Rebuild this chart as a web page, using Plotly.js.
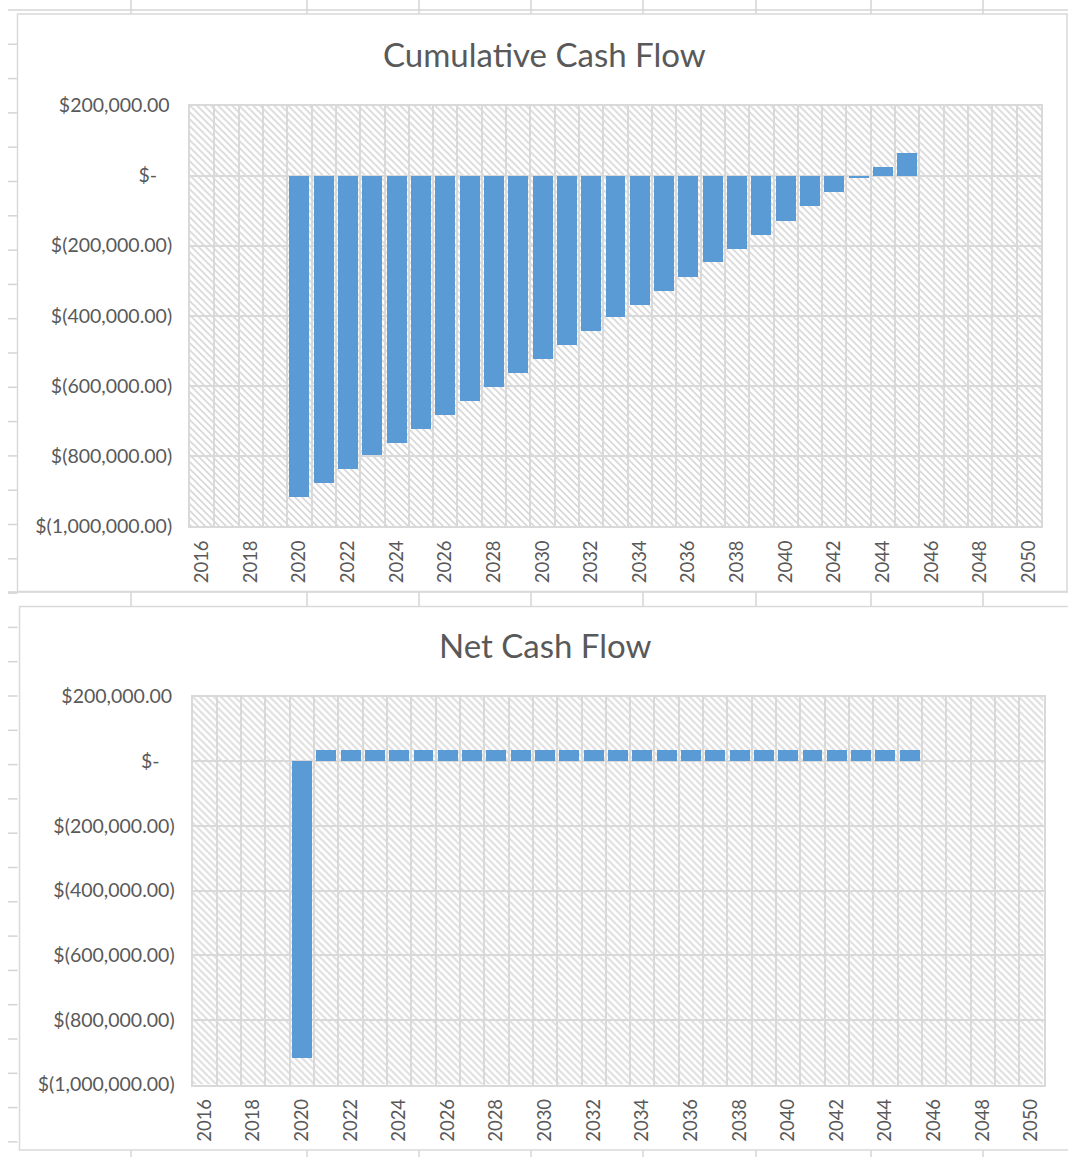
<!DOCTYPE html>
<html>
<head>
<meta charset="utf-8">
<script src="https://cdn.plot.ly/plotly-3.0.1.min.js"></script>
<style>
  html, body { margin: 0; padding: 0; background: #ffffff; }
  #chart { width: 1068px; height: 1157px; }
</style>
</head>
<body>
<div id="chart"></div>
<script>
// ---- data ----
const years = [2016, 2017, 2018, 2019, 2020, 2021, 2022, 2023, 2024, 2025, 2026, 2027,
  2028, 2029, 2030, 2031, 2032, 2033, 2034, 2035, 2036, 2037, 2038, 2039, 2040,
  2041, 2042, 2043, 2044, 2045, 2046, 2047, 2048, 2049, 2050];

const flowYears = [2020, 2021, 2022, 2023, 2024, 2025, 2026, 2027, 2028, 2029, 2030,
  2031, 2032, 2033, 2034, 2035, 2036, 2037, 2038, 2039, 2040, 2041, 2042, 2043, 2044, 2045];

const cumulativeCashFlow = [-916000, -878000, -837000, -797000, -763000, -723000, -683000,
  -643000, -603000, -563000, -523000, -483000, -443000, -403000, -369000, -328000, -289000,
  -248000, -209000, -169000, -129000, -88000, -48000, -6000, 24000, 64000];

const netCashFlow = [-917000, 35000, 35000, 35000, 35000, 35000, 35000, 35000, 35000, 35000,
  35000, 35000, 35000, 35000, 35000, 35000, 35000, 35000, 35000, 35000, 35000, 35000,
  35000, 35000, 35000, 35000];

const xTickYears = [2016, 2018, 2020, 2022, 2024, 2026, 2028, 2030, 2032, 2034, 2036,
  2038, 2040, 2042, 2044, 2046, 2048, 2050];

const yTickValues = [200000, 0, -200000, -400000, -600000, -800000, -1000000];
const yTickLabels = ['$200,000.00\u2009', '$-\u00a0\u00a0\u00a0', '$(200,000.00)', '$(400,000.00)',
  '$(600,000.00)', '$(800,000.00)', '$(1,000,000.00)'];

const titles = ['Cumulative Cash Flow', 'Net Cash Flow'];

// ---- page geometry (pixels) ----
const W = 1068, H = 1157;
const px = x => x / W;
const py = y => 1 - y / H;

const plotBoxes = [
  { x0: 190, x1: 1041, y0: 105.5, y1: 526 },
  { x0: 192.5, x1: 1043.5, y0: 696.5, y1: 1084.5 }
];

const FONT = 'Lato, "Open Sans", sans-serif';
const TEXT = '#595959';
const GRID = '#d9d9d9';
const BAR = '#5B9BD5';
const SHEET = '#d4d4d4';

// Diagonal hatch used as the plot-area fill
function hatch(w, h) {
  const svg =
    '<svg xmlns="http://www.w3.org/2000/svg" width="' + w + '" height="' + h + '">' +
    '<defs><pattern id="p" width="7" height="7" patternUnits="userSpaceOnUse">' +
    '<path d="M-1,-1 L8,8 M-1,6 L1,8 M6,-1 L8,1" stroke="#d8d8d8" stroke-width="1.7"/>' +
    '</pattern></defs>' +
    '<rect width="' + w + '" height="' + h + '" fill="#ffffff"/>' +
    '<rect width="' + w + '" height="' + h + '" fill="url(#p)"/></svg>';
  return 'data:image/svg+xml;charset=utf-8,' + encodeURIComponent(svg);
}

const traces = [
  {
    type: 'bar', x: flowYears, y: cumulativeCashFlow, xaxis: 'x', yaxis: 'y',
    width: 0.82, marker: { color: BAR, line: { width: 0 } }, hoverinfo: 'skip'
  },
  {
    type: 'bar', x: flowYears, y: netCashFlow, xaxis: 'x2', yaxis: 'y2',
    width: 0.82, marker: { color: BAR, line: { width: 0 } }, hoverinfo: 'skip'
  }
];

function xAxis(box, anchor) {
  return {
    domain: [px(box.x0), px(box.x1)],
    anchor: anchor,
    type: 'linear',
    range: [years[0] - 0.5, years[years.length - 1] + 0.5],
    tickmode: 'array',
    tickvals: xTickYears,
    ticktext: xTickYears.map(String),
    tickangle: -90,
    ticks: '',
    ticklabelstandoff: 5,
    showgrid: false,
    zeroline: false,
    showline: true,
    mirror: true,
    linecolor: GRID,
    linewidth: 2,
    minor: {
      tickmode: 'linear',
      tick0: years[0] - 0.5,
      dtick: 1,
      showgrid: true,
      gridcolor: GRID,
      gridwidth: 2,
      ticks: ''
    },
    tickfont: { family: FONT, size: 18.5, color: TEXT },
    fixedrange: true
  };
}

function yAxis(box, anchor) {
  return {
    domain: [py(box.y1), py(box.y0)],
    anchor: anchor,
    range: [yTickValues[yTickValues.length - 1], yTickValues[0]],
    tickmode: 'array',
    tickvals: yTickValues,
    ticktext: yTickLabels,
    ticks: '',
    ticklabelstandoff: 12,
    showgrid: true,
    gridcolor: GRID,
    gridwidth: 2,
    zeroline: false,
    showline: true,
    mirror: true,
    linecolor: GRID,
    linewidth: 2,
    tickfont: { family: FONT, size: 19.5, color: TEXT },
    fixedrange: true
  };
}

// Worksheet grid visible around the two chart objects
const sheetColumns = [131, 307, 419, 531, 643, 756, 871, 983];
const shapes = [];
function seg(x0, y0, x1, y1, color, width) {
  shapes.push({
    type: 'line', xref: 'paper', yref: 'paper', layer: 'below',
    x0: px(x0), y0: py(y0), x1: px(x1), y1: py(y1),
    line: { color: color, width: width }
  });
}
seg(8, 10, W, 10, SHEET, 1.5);
seg(8, 592, W, 592, SHEET, 1.5);
sheetColumns.forEach(c => {
  seg(c, 0, c, 14, SHEET, 1.5);
  seg(c, 592, c, 606.5, SHEET, 1.5);
  seg(c, 1150, c, H, SHEET, 1.5);
});
for (let y = 10 + 34.3; y < H; y += 34.3) {
  seg(8, y, 17.5, y, SHEET, 1.5);
}
// chart object borders
shapes.push({
  type: 'rect', xref: 'paper', yref: 'paper', layer: 'below',
  x0: px(17.5), y0: py(591.5), x1: px(1067), y1: py(14),
  line: { color: GRID, width: 1.5 }, fillcolor: 'rgba(0,0,0,0)'
});
shapes.push({
  type: 'rect', xref: 'paper', yref: 'paper', layer: 'below',
  x0: px(19.5), y0: py(1150), x1: px(1075), y1: py(606.5),
  line: { color: GRID, width: 1.5 }, fillcolor: 'rgba(0,0,0,0)'
});

const images = plotBoxes.map(b => ({
  source: hatch(Math.round(b.x1 - b.x0), Math.round(b.y1 - b.y0)),
  xref: 'paper', yref: 'paper',
  x: px(b.x0), y: py(b.y0),
  sizex: px(b.x1) - px(b.x0), sizey: py(b.y0) - py(b.y1),
  xanchor: 'left', yanchor: 'top', sizing: 'stretch', layer: 'below'
}));

const annotations = [
  { text: titles[0], x: px(544), y: py(54) },
  { text: titles[1], x: px(545), y: py(645) }
].map(a => Object.assign(a, {
  xref: 'paper', yref: 'paper', showarrow: false,
  xanchor: 'center', yanchor: 'middle',
  font: { family: FONT, size: 33, color: TEXT }
}));

const layout = {
  width: W, height: H,
  margin: { l: 0, r: 0, t: 0, b: 0 },
  paper_bgcolor: '#ffffff',
  plot_bgcolor: 'rgba(0,0,0,0)',
  showlegend: false,
  bargap: 0,
  xaxis: xAxis(plotBoxes[0], 'y'),
  yaxis: yAxis(plotBoxes[0], 'x'),
  xaxis2: xAxis(plotBoxes[1], 'y2'),
  yaxis2: yAxis(plotBoxes[1], 'x2'),
  shapes: shapes,
  images: images,
  annotations: annotations
};

Plotly.newPlot('chart', traces, layout, { displayModeBar: false, staticPlot: true });
</script>
</body>
</html>
